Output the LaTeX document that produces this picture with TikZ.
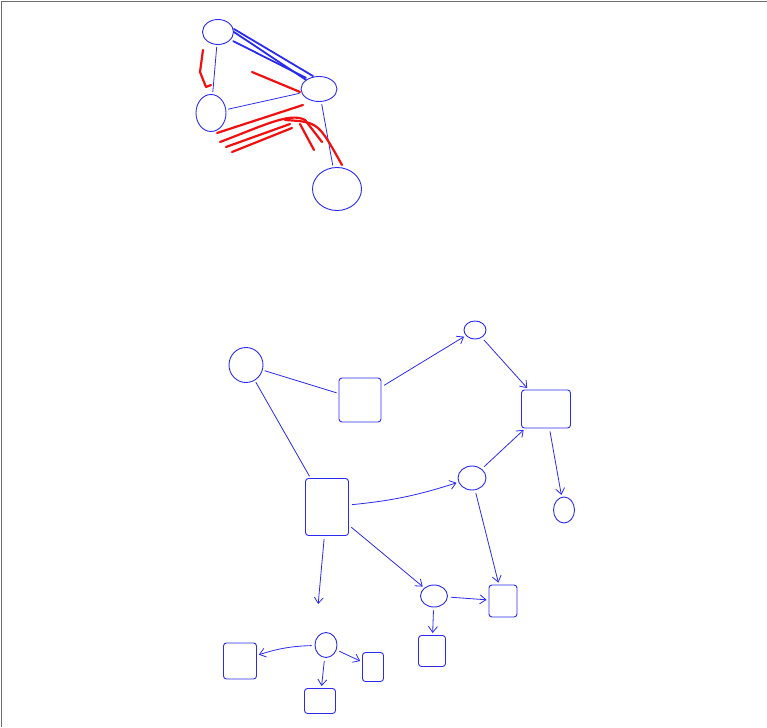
\documentclass[tikz,border=0pt]{standalone}
\usepackage{xcolor}
\usepackage{tikz}
\usetikzlibrary{arrows.meta, shapes.geometric}
\definecolor{penBlue}{HTML}{2B2BF0}
\definecolor{penRed}{HTML}{F01010}
\definecolor{frameGrey}{HTML}{6E6E6E}
\tikzset{
  blob/.style  = {ellipse, draw=penBlue, line width=0.9pt, inner sep=0pt},
  card/.style  = {rectangle, draw=penBlue, line width=0.9pt, rounded corners=3pt, inner sep=0pt},
  ln/.style    = {draw=penBlue, line width=0.8pt, shorten <=2pt, shorten >=2pt},
  fl/.style    = {-{Straight Barb[length=6pt, width=9pt]}, draw=penBlue, line width=0.8pt,
                  shorten <=3pt, shorten >=2pt},
  scrib/.style = {draw=penBlue, line width=1.8pt, line cap=round},
  ink/.style   = {draw=penRed, line width=2.2pt, line cap=round, line join=round},
  rim/.style   = {draw=frameGrey, line width=1.6pt}
}

\begin{document}
\begin{tikzpicture}[x=1pt, y=-1pt]
  \useasboundingbox (0,0) rectangle (767,727);
  \draw[rim] (1.5,727) -- (1.5,1.5) -- (767,1.5);

  \node[blob, minimum width=31pt, minimum height=25pt] (ta) at (218,32) {};
  \node[blob, minimum width=36pt, minimum height=25pt] (tb) at (319,89) {};
  \node[blob, minimum width=30pt, minimum height=37pt] (tc) at (211,113) {};
  \node[blob, minimum width=49pt, minimum height=43pt] (td) at (337,189) {};
  \draw[scrib] ([yshift=3pt]ta.east) -- ([xshift=-6pt]tb.north);
  \draw[scrib] (ta.east) -- (tb.north west);
  \draw[scrib] ([xshift=4pt]ta.south east) -- ([yshift=2pt]tb.north west);
  \draw[ln] (ta) -- (tc);
  \draw[ln] (tc) -- (tb);
  \draw[ln] (tb) -- (td);
  \draw[ink] (203,50) -- (200,72) -- (206,87) -- (211,85);
  \draw[ink] (252,72) -- (300,92);
  \draw[ink] (217,133) -- (303,105);
  \draw[ink] (220,142) .. controls (265,125) and (290,112) .. (305,120) -- (322,142);
  \draw[ink] (226,147) -- (290,124);
  \draw[ink] (232,152) -- (292,128);
  \draw[ink] (285,120) .. controls (318,122) .. (342,165);
  \draw[ink] (300,124) -- (314,150);

  \node[blob, minimum width=34pt, minimum height=35pt] (n1) at (246,365) {};
  \node[card, minimum width=42pt, minimum height=44pt] (r1) at (360,400) {};
  \node[blob, minimum width=22pt, minimum height=18pt] (n2) at (475,330) {};
  \node[card, minimum width=49pt, minimum height=38pt] (r2) at (546,409) {};
  \node[card, minimum width=43pt, minimum height=57pt] (r3) at (327,507) {};
  \node[blob, minimum width=28pt, minimum height=24pt] (n3) at (472,478) {};
  \node[blob, minimum width=21pt, minimum height=26pt] (n4) at (564,510) {};
  \node[blob, minimum width=27pt, minimum height=22pt] (n5) at (434,596) {};
  \node[card, minimum width=28pt, minimum height=32pt] (r4) at (503,601) {};
  \node[card, minimum width=27pt, minimum height=31pt] (r5) at (432,651) {};
  \node[blob, minimum width=22pt, minimum height=25pt] (n6) at (326,645) {};
  \node[card, minimum width=33pt, minimum height=36pt] (r6) at (240,661) {};
  \node[card, minimum width=21pt, minimum height=29pt] (r7) at (373,667) {};
  \node[card, minimum width=31pt, minimum height=25pt] (r8) at (320,701) {};
  \coordinate (drop) at (318,606);

  \draw[ln] (n1) -- (r1);
  \draw[ln] (n1) -- (r3);
  \draw[fl] (r1) -- (n2);
  \draw[fl] (n2) -- (r2);
  \draw[fl] (r3) to[bend right=6] (n3);
  \draw[fl] (n3) -- (r2);
  \draw[fl] (r2) -- (n4);
  \draw[fl] (n3) -- (r4);
  \draw[fl] (r3) -- (n5);
  \draw[fl] (r3) -- (drop);
  \draw[fl] (n5) -- (r4);
  \draw[fl] (n5) -- (r5);
  \draw[fl] (n6) to[bend right=8] (r6);
  \draw[fl] (n6) -- (r7);
  \draw[fl] (n6) -- (r8);
\end{tikzpicture}
\end{document}
